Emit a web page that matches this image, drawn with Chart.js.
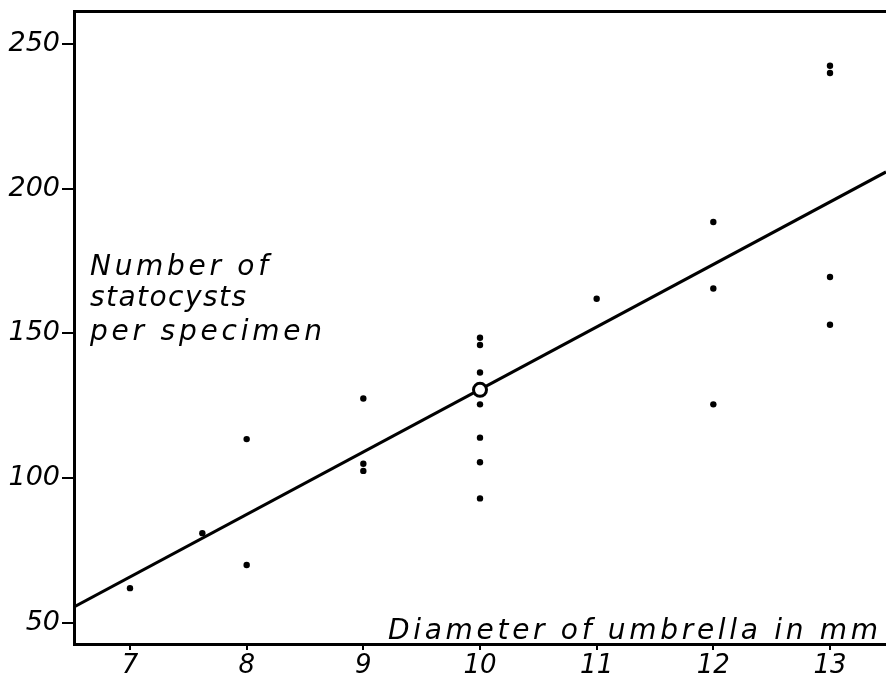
<!DOCTYPE html>
<html>
<head>
<meta charset="utf-8">
<script src="https://cdn.jsdelivr.net/npm/chart.js@4/dist/chart.umd.min.js"></script>
<style>
html,body{margin:0;padding:0;background:#fff;}
#wrap{width:886px;height:687px;}
</style>
</head>
<body>
<div id="wrap"><canvas id="c" width="886" height="687"></canvas></div>
<script>
// Observations: diameter of umbrella (mm) and number of statocysts
const diameters = [7, 7.62, 8, 8, 9, 9, 9, 10, 10, 10, 10, 10, 10, 10, 11, 12, 12, 12, 13, 13, 13, 13];
const statocysts = [62, 81, 113.5, 70, 127.5, 105, 102.5, 148.5, 146, 136.5, 125.5, 114, 105.5, 93, 162, 188.5, 165.5, 125.5, 242.5, 240, 169.5, 153];
// Mean point (open circle)
const meanX = [10];
const meanY = [130.5];
// Regression line end points
const lineX = [6.52, 13.48];
const lineY = [55.5, 205.8];
// Axis ticks
const xTicks = [7, 8, 9, 10, 11, 12, 13];
const yTicks = [50, 100, 150, 200, 250];
const yTitle = ['Number of', 'statocysts', 'per specimen'];
const xTitle = 'Diameter of umbrella in mm';

const FONT = '"DejaVu Sans", sans-serif';

const textPlugin = {
  id: 'inTitles',
  afterDraw(chart) {
    const ctx = chart.ctx;
    ctx.save();
    ctx.fillStyle = '#000';
    ctx.font = 'italic 28px ' + FONT;
    ctx.textBaseline = 'middle';
    ctx.textAlign = 'left';
    const fit = (txt, w) => {
      ctx.letterSpacing = '0px';
      const base = ctx.measureText(txt).width;
      const ls = (w - base) / (txt.length - 1);
      ctx.letterSpacing = ls + 'px';
    };
    const ys = [268, 299, 333];
    const ws = [178, 156, 232];
    yTitle.forEach((t, i) => { fit(t, ws[i]); ctx.fillText(t, 90, ys[i]); });
    fit(xTitle, 490);
    ctx.fillText(xTitle, 388, 632);
    ctx.restore();
  }
};

const noPad = s => { s.paddingLeft = 0; s.paddingRight = 0; s.paddingTop = 0; s.paddingBottom = 0; };

new Chart(document.getElementById('c'), {
  type: 'scatter',
  data: {
    datasets: [
      {
        type: 'line',
        data: lineX.map((x, i) => ({x, y: lineY[i]})),
        borderColor: '#000', borderWidth: 3, pointRadius: 0, fill: false, order: 3
      },
      {
        data: diameters.map((x, i) => ({x, y: statocysts[i]})),
        backgroundColor: '#000', borderColor: '#000', pointRadius: 3.2, borderWidth: 0, order: 1
      },
      {
        data: meanX.map((x, i) => ({x, y: meanY[i]})),
        backgroundColor: '#fff', borderColor: '#000', pointRadius: 6.5, borderWidth: 3, order: 0
      }
    ]
  },
  options: {
    responsive: false,
    animation: false,
    events: [],
    layout: { autoPadding: false, padding: { top: 11, left: 0, right: 0, bottom: 0 } },
    plugins: { legend: { display: false }, tooltip: { enabled: false }, title: { display: false } },
    scales: {
      x: {
        type: 'linear', position: 'bottom', min: 6.52, max: 13.48,
        afterBuildTicks: s => { s.ticks = xTicks.map(v => ({value: v})); },
        afterFit: s => { s.height = 43; noPad(s); },
        border: { display: true, color: '#000', width: 3 },
        grid: { drawOnChartArea: false, drawTicks: true, tickLength: 6, color: '#000', lineWidth: 2 },
        ticks: { color: '#000', padding: 1, font: { family: FONT, size: 26, style: 'italic' }, maxRotation: 0, callback: v => String(v) }
      },
      x2: {
        type: 'linear', position: 'top', min: 6.52, max: 13.48,
        afterBuildTicks: s => { s.ticks = []; },
        afterFit: s => { s.height = 0; noPad(s); },
        border: { display: true, color: '#000', width: 3 },
        grid: { display: false },
        ticks: { display: false }
      },
      y: {
        type: 'linear', position: 'left', min: 42.7, max: 261.4,
        afterBuildTicks: s => { s.ticks = yTicks.map(v => ({value: v})); },
        afterFit: s => { s.width = 74; noPad(s); },
        border: { display: true, color: '#000', width: 3 },
        grid: { drawOnChartArea: false, drawTicks: true, tickLength: 12, color: '#000', lineWidth: 2 },
        ticks: { color: '#000', padding: 2, font: { family: FONT, size: 27, style: 'italic' }, callback: v => String(v) }
      }
    }
  },
  plugins: [textPlugin]
});
</script>
</body>
</html>
